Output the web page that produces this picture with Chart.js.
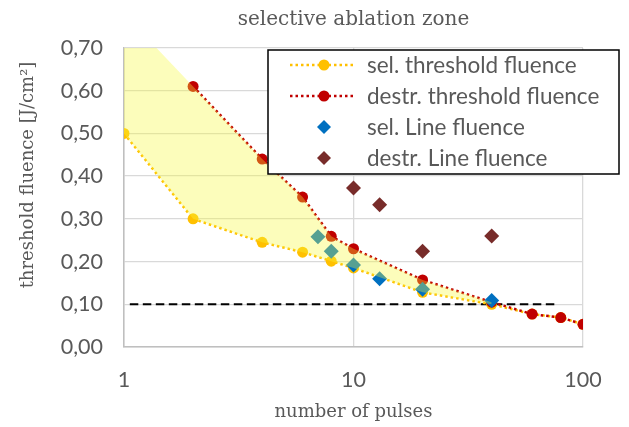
<!DOCTYPE html>
<html>
<head>
<meta charset="utf-8">
<script src="https://cdn.jsdelivr.net/npm/chart.js@4.4.1/dist/chart.umd.min.js"></script>
<style>
	html, body { margin: 0; padding: 0; background: #fff; }
</style>
</head>
<body>
<canvas id="myChart" width="629" height="427"></canvas>
<script>
// values (x = number of pulses, y = J/cm2)
var pulsesSel = [1, 2, 4, 6, 8, 10, 20, 40, 60, 80, 100];
var selThreshold = [0.50, 0.30, 0.245, 0.222, 0.201, 0.185, 0.128, 0.10, 0.077, 0.069, 0.053];
var pulsesDestr = [2, 4, 6, 8, 10, 20, 40, 60, 80, 100];
var destrThreshold = [0.61, 0.44, 0.351, 0.259, 0.23, 0.157, 0.105, 0.077, 0.069, 0.053];
var pulsesSelLine = [7, 8, 10, 13, 20, 40];
var selLine = [0.258, 0.224, 0.192, 0.16, 0.135, 0.109];
var pulsesDestrLine = [10, 13, 20, 40];
var destrLine = [0.372, 0.333, 0.224, 0.26];

// yellow zone between the two thresholds
var zonePulses = [1, 2, 4, 6, 8, 10, 20, 40];
var zoneTop = [0.78, 0.61, 0.44, 0.351, 0.259, 0.23, 0.157, 0.105];
var zoneBottom = [0.50, 0.30, 0.245, 0.222, 0.201, 0.185, 0.128, 0.10];

// dashed reference level
var refPulses = [1.06, 75];
var refLevel = [0.10, 0.10];

var xTicks = [1, 10, 100];

var textGrey = '#595959';

function pts(xs, ys) {
	return xs.map(function (x, i) { return {x: x, y: ys[i]}; });
}

//legend in a black box, drawn over the plot
var boxLegend = {
	id: 'boxLegend',
	afterDraw: function (chart) {
		var ctx = chart.ctx;
		var items = chart.data.datasets.filter(function (d) { return d.inLegend; });
		ctx.save();
		ctx.fillStyle = '#fff';
		ctx.fillRect(268, 50, 351, 124);
		ctx.strokeStyle = '#000';
		ctx.lineWidth = 1.5;
		ctx.strokeRect(268, 50, 351, 124);
		items.forEach(function (d, i) {
			var y = 65 + i * 31;
			var mx = 324;
			if (d.showLine !== false) {
				ctx.beginPath();
				ctx.setLineDash(d.borderDash);
				ctx.strokeStyle = d.borderColor;
				ctx.lineWidth = d.borderWidth;
				ctx.moveTo(290, y);
				ctx.lineTo(356, y);
				ctx.stroke();
				ctx.setLineDash([]);
			}
			ctx.fillStyle = d.pointBackgroundColor;
			ctx.beginPath();
			if (d.pointStyle === 'rectRot') {
				var r = d.pointRadius - 0.5;
				ctx.moveTo(mx, y - r);
				ctx.lineTo(mx + r, y);
				ctx.lineTo(mx, y + r);
				ctx.lineTo(mx - r, y);
				ctx.closePath();
			} else {
				ctx.arc(mx, y, d.pointRadius, 0, Math.PI * 2);
			}
			ctx.fill();
			ctx.fillStyle = textGrey;
			ctx.font = '22.5px Lato';
			ctx.textAlign = 'left';
			ctx.textBaseline = 'middle';
			ctx.fillText(d.label, 367, y + 1);
		});
		ctx.restore();
	}
};

//chart title centred over the plot, y title a bit above the plot middle
var titles = {
	id: 'titles',
	afterDraw: function (chart) {
		var ctx = chart.ctx;
		var area = chart.chartArea;
		ctx.save();
		ctx.fillStyle = textGrey;
		ctx.textAlign = 'center';
		ctx.textBaseline = 'middle';
		ctx.font = '20px "DejaVu Serif"';
		ctx.fillText('selective ablation zone', (area.left + area.right) / 2, 20);
		ctx.translate(28, 175);
		ctx.rotate(-Math.PI / 2);
		ctx.font = '18px "DejaVu Serif"';
		ctx.fillText('threshold fluence [J/cm\u00B2]', 0, 0);
		ctx.restore();
	}
};

var ctx = document.getElementById('myChart').getContext('2d');
var fluenceChart = new Chart(ctx, {
	type: 'line',
	data: {
		datasets: [{
			label: 'zone',
			data: pts(zonePulses, zoneTop),
			borderColor: 'transparent',
			borderWidth: 0,
			pointRadius: 0,
			backgroundColor: 'rgba(245,250,60,0.35)',
			fill: '+1',
			order: -1
		}, {
			label: 'zone bottom',
			data: pts(zonePulses, zoneBottom),
			borderColor: 'transparent',
			borderWidth: 0,
			pointRadius: 0,
			fill: false,
			order: 9
		}, {
			label: 'sel. threshold fluence',
			inLegend: true,
			data: pts(pulsesSel, selThreshold),
			borderColor: '#FFC000',
			borderWidth: 2.5,
			borderDash: [2.5, 3],
			pointRadius: 5.5,
			pointBackgroundColor: '#FFC000',
			pointBorderWidth: 0,
			fill: false,
			order: 5
		}, {
			label: 'destr. threshold fluence',
			inLegend: true,
			data: pts(pulsesDestr, destrThreshold),
			borderColor: '#C00000',
			borderWidth: 2.5,
			borderDash: [2.5, 3],
			pointRadius: 5.5,
			pointBackgroundColor: '#C00000',
			pointBorderWidth: 0,
			fill: false,
			order: 4
		}, {
			label: 'sel. Line fluence',
			inLegend: true,
			data: pts(pulsesSelLine, selLine),
			showLine: false,
			pointStyle: 'rectRot',
			pointRadius: 7.5,
			pointBackgroundColor: '#0070C0',
			pointBorderWidth: 0,
			fill: false,
			order: 3
		}, {
			label: 'destr. Line fluence',
			inLegend: true,
			data: pts(pulsesDestrLine, destrLine),
			showLine: false,
			pointStyle: 'rectRot',
			pointRadius: 7.5,
			pointBackgroundColor: '#782C2A',
			pointBorderWidth: 0,
			fill: false,
			order: 2
		}, {
			label: 'reference',
			data: pts(refPulses, refLevel),
			borderColor: '#000',
			borderWidth: 2,
			borderDash: [8.5, 4.5],
			pointRadius: 0,
			fill: false,
			order: 8
		}]
	},
	options: {
		responsive: false,
		animation: false,
		layout: {
			padding: {left: 0, right: 46, top: 48, bottom: 0}
		},
		plugins: {
			legend: {display: false},
			tooltip: {enabled: false},
			title: {display: false}
		},
		scales: {
			x: {
				type: 'logarithmic',
				min: 1,
				max: 100,
				afterBuildTicks: function (scale) {
					scale.ticks = xTicks.map(function (v) { return {value: v}; });
				},
				afterFit: function (scale) {
					scale.height = 80;
				},
				ticks: {
					color: textGrey,
					font: {family: 'Lato', size: 21.5},
					padding: 20,
					maxRotation: 0,
					callback: function (v) { return String(v); }
				},
				grid: {color: '#d9d9d9', lineWidth: 1.3, drawTicks: false},
				border: {color: '#bfbfbf', width: 1.5},
				title: {
					display: true,
					text: 'number of pulses',
					color: textGrey,
					font: {family: '"DejaVu Serif"', size: 18, lineHeight: 1.2},
					padding: {top: 0, bottom: 4}
				}
			},
			y: {
				min: 0,
				max: 0.7,
				afterFit: function (scale) {
					scale.width = 124;
				},
				ticks: {
					stepSize: 0.1,
					color: textGrey,
					font: {family: 'Lato', size: 21.5},
					padding: 21,
					callback: function (v) { return v.toFixed(2).replace('.', ','); }
				},
				grid: {color: '#d9d9d9', lineWidth: 1.3, drawTicks: false},
				border: {color: '#bfbfbf', width: 1.5}
			}
		}
	},
	plugins: [titles, boxLegend]
});
</script>
</body>
</html>
